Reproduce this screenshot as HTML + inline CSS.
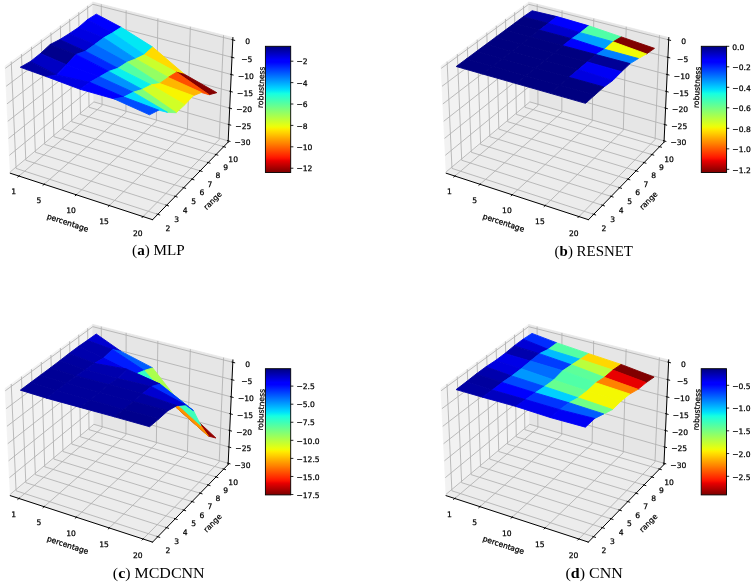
<!DOCTYPE html>
<html lang="en"><head><meta charset="utf-8"><title>Robustness surfaces</title>
<style>
html,body{margin:0;padding:0;background:#fff}
svg{display:block}
svg text{font-family:"DejaVu Sans","Liberation Sans",sans-serif;font-size:7.59px;fill:#000;stroke:#000;stroke-width:0.25px}
svg text.cap{font-family:"Liberation Serif","DejaVu Serif",serif;font-size:14px;stroke:none}
</style></head>
<body>
<svg width="755" height="586" viewBox="0 0 755 586">
<defs><linearGradient id="jet" x1="0" y1="0" x2="0" y2="1"><stop offset="0%" stop-color="#000080"/><stop offset="1.56%" stop-color="#000092"/><stop offset="3.12%" stop-color="#0000a4"/><stop offset="4.69%" stop-color="#0000b6"/><stop offset="6.25%" stop-color="#0000c8"/><stop offset="7.81%" stop-color="#0000da"/><stop offset="9.38%" stop-color="#0000ed"/><stop offset="10.94%" stop-color="#0000ff"/><stop offset="12.5%" stop-color="#0000ff"/><stop offset="14.06%" stop-color="#0010ff"/><stop offset="15.62%" stop-color="#0020ff"/><stop offset="17.19%" stop-color="#0030ff"/><stop offset="18.75%" stop-color="#0040ff"/><stop offset="20.31%" stop-color="#0050ff"/><stop offset="21.88%" stop-color="#0060ff"/><stop offset="23.44%" stop-color="#0070ff"/><stop offset="25%" stop-color="#0080ff"/><stop offset="26.56%" stop-color="#0090ff"/><stop offset="28.12%" stop-color="#00a0ff"/><stop offset="29.69%" stop-color="#00b0ff"/><stop offset="31.25%" stop-color="#00c0ff"/><stop offset="32.81%" stop-color="#00d0ff"/><stop offset="34.38%" stop-color="#00e0fb"/><stop offset="35.94%" stop-color="#09f0ee"/><stop offset="37.5%" stop-color="#16ffe1"/><stop offset="39.06%" stop-color="#23ffd4"/><stop offset="40.62%" stop-color="#30ffc7"/><stop offset="42.19%" stop-color="#3cffba"/><stop offset="43.75%" stop-color="#49ffad"/><stop offset="45.31%" stop-color="#56ffa0"/><stop offset="46.88%" stop-color="#63ff94"/><stop offset="48.44%" stop-color="#70ff87"/><stop offset="50%" stop-color="#7dff7a"/><stop offset="51.56%" stop-color="#8aff6d"/><stop offset="53.12%" stop-color="#97ff60"/><stop offset="54.69%" stop-color="#a4ff53"/><stop offset="56.25%" stop-color="#b1ff46"/><stop offset="57.81%" stop-color="#beff39"/><stop offset="59.38%" stop-color="#caff2c"/><stop offset="60.94%" stop-color="#d7ff1f"/><stop offset="62.5%" stop-color="#e4ff13"/><stop offset="64.06%" stop-color="#f1fc06"/><stop offset="65.62%" stop-color="#feed00"/><stop offset="67.19%" stop-color="#ffde00"/><stop offset="68.75%" stop-color="#ffd000"/><stop offset="70.31%" stop-color="#ffc100"/><stop offset="71.88%" stop-color="#ffb200"/><stop offset="73.44%" stop-color="#ffa300"/><stop offset="75%" stop-color="#ff9400"/><stop offset="76.56%" stop-color="#ff8600"/><stop offset="78.12%" stop-color="#ff7700"/><stop offset="79.69%" stop-color="#ff6800"/><stop offset="81.25%" stop-color="#ff5900"/><stop offset="82.81%" stop-color="#ff4a00"/><stop offset="84.38%" stop-color="#ff3b00"/><stop offset="85.94%" stop-color="#ff2d00"/><stop offset="87.5%" stop-color="#ff1e00"/><stop offset="89.06%" stop-color="#fa0f00"/><stop offset="90.62%" stop-color="#e80000"/><stop offset="92.19%" stop-color="#d60000"/><stop offset="93.75%" stop-color="#c40000"/><stop offset="95.31%" stop-color="#b20000"/><stop offset="96.88%" stop-color="#9f0000"/><stop offset="98.44%" stop-color="#8d0000"/><stop offset="100%" stop-color="#800000"/></linearGradient></defs>
<rect width="755" height="586" fill="#fff"/>
<g id="plot-a">
<polygon points="10.31,173.24 93.94,103.14 92.78,2.05 5.15,66" fill="#f2f2f2" stroke="#f2f2f2" stroke-width="0.76" stroke-linejoin="miter"/>
<polygon points="93.94,103.14 228.13,142.15 232.91,37.57 92.78,2.05" fill="#e6e6e6" stroke="#e6e6e6" stroke-width="0.76" stroke-linejoin="miter"/>
<polygon points="10.31,173.24 152.56,219.7 228.13,142.15 93.94,103.14" fill="#ececec" stroke="#ececec" stroke-width="0.76" stroke-linejoin="miter"/>
<path d="M18.93,176.05L102.1,105.51L101.28,4.21M44.12,184.28L125.94,112.44L126.14,10.51M76.3,194.79L156.33,121.28L157.87,18.55M109.27,205.56L187.41,130.31L190.33,26.78M143.05,216.59L219.19,139.55L223.57,35.2M11.21,61.58L16.08,168.41L157.79,214.33M21.43,54.12L25.81,160.25L166.61,205.28M31.45,46.8L35.35,152.25L175.25,196.41M41.28,39.63L44.72,144.4L183.73,187.71M50.91,32.6L53.91,136.7L192.03,179.18M60.36,25.71L62.93,129.13L200.18,170.82M69.63,18.94L71.79,121.71L208.17,162.62M78.72,12.31L80.48,114.42L216.01,154.58M87.65,5.8L89.03,107.26L223.71,146.68M228.18,140.86L93.92,101.89L10.25,171.92M228.93,124.61L93.74,86.16L9.45,155.28M229.68,108.14L93.56,70.23L8.64,138.41M230.45,91.44L93.37,54.07L7.81,121.29M231.22,74.5L93.19,37.7L6.98,103.91M232.01,57.32L93,21.11L6.13,86.28M232.81,39.89L92.8,4.29L5.26,68.38" fill="none" stroke="#b0b0b0" stroke-width="0.85" stroke-linejoin="miter"/>
<polygon points="87.38,19.71 112.46,32.87 121.13,27.3 96.25,14.14" fill="#0000ff" stroke="#0000ff" stroke-width="0.9" stroke-linejoin="round"/>
<polygon points="112.46,32.87 144.22,54.72 152.66,47.07 121.13,27.3" fill="#02e8f4" stroke="#02e8f4" stroke-width="0.9" stroke-linejoin="round"/>
<polygon points="78.38,27.56 103.61,37.85 112.46,32.87 87.38,19.71" fill="#0000f1" stroke="#0000f1" stroke-width="0.9" stroke-linejoin="round"/>
<polygon points="144.22,54.72 176.48,72.24 184.42,74.25 152.66,47.07" fill="#ffdb00" stroke="#ffdb00" stroke-width="0.9" stroke-linejoin="round"/>
<polygon points="103.61,37.85 135.65,58.9 144.22,54.72 112.46,32.87" fill="#00c8ff" stroke="#00c8ff" stroke-width="0.9" stroke-linejoin="round"/>
<polygon points="176.48,72.24 209.09,94.71 216.8,92.67 184.42,74.25" fill="#840000" stroke="#840000" stroke-width="0.9" stroke-linejoin="round"/>
<polygon points="69.18,33.68 94.59,44.61 103.61,37.85 78.38,27.56" fill="#0000e3" stroke="#0000e3" stroke-width="0.9" stroke-linejoin="round"/>
<polygon points="135.65,58.9 168.18,77.4 176.48,72.24 144.22,54.72" fill="#caff2c" stroke="#caff2c" stroke-width="0.9" stroke-linejoin="round"/>
<polygon points="94.59,44.61 126.9,62.37 135.65,58.9 103.61,37.85" fill="#0090ff" stroke="#0090ff" stroke-width="0.9" stroke-linejoin="round"/>
<polygon points="59.78,39.58 85.38,51.19 94.59,44.61 69.18,33.68" fill="#0000d1" stroke="#0000d1" stroke-width="0.9" stroke-linejoin="round"/>
<polygon points="168.18,77.4 201.35,92.46 209.09,94.71 176.48,72.24" fill="#ff4e00" stroke="#ff4e00" stroke-width="0.9" stroke-linejoin="round"/>
<polygon points="126.9,62.37 159.69,83.47 168.18,77.4 135.65,58.9" fill="#94ff63" stroke="#94ff63" stroke-width="0.9" stroke-linejoin="round"/>
<polygon points="85.38,51.19 117.94,68.23 126.9,62.37 94.59,44.61" fill="#0068ff" stroke="#0068ff" stroke-width="0.9" stroke-linejoin="round"/>
<polygon points="50.15,44.47 75.93,54.48 85.38,51.19 59.78,39.58" fill="#00009b" stroke="#00009b" stroke-width="0.9" stroke-linejoin="round"/>
<polygon points="159.69,83.47 193.22,95.75 201.35,92.46 168.18,77.4" fill="#ffb600" stroke="#ffb600" stroke-width="0.9" stroke-linejoin="round"/>
<polygon points="117.94,68.23 151.08,84.9 159.69,83.47 126.9,62.37" fill="#53ffa4" stroke="#53ffa4" stroke-width="0.9" stroke-linejoin="round"/>
<polygon points="75.93,54.48 108.78,71.42 117.94,68.23 85.38,51.19" fill="#0028ff" stroke="#0028ff" stroke-width="0.9" stroke-linejoin="round"/>
<polygon points="40.45,53.51 66.41,64.69 75.93,54.48 50.15,44.47" fill="#00008d" stroke="#00008d" stroke-width="0.9" stroke-linejoin="round"/>
<polygon points="151.08,84.9 184.74,104.82 193.22,95.75 159.69,83.47" fill="#f8f500" stroke="#f8f500" stroke-width="0.9" stroke-linejoin="round"/>
<polygon points="108.78,71.42 142.22,89.45 151.08,84.9 117.94,68.23" fill="#09f0ee" stroke="#09f0ee" stroke-width="0.9" stroke-linejoin="round"/>
<polygon points="66.41,64.69 99.43,76.84 108.78,71.42 75.93,54.48" fill="#0000ff" stroke="#0000ff" stroke-width="0.9" stroke-linejoin="round"/>
<polygon points="30.53,61.44 56.71,74.9 66.41,64.69 40.45,53.51" fill="#0000c4" stroke="#0000c4" stroke-width="0.9" stroke-linejoin="round"/>
<polygon points="142.22,89.45 176.12,112.72 184.74,104.82 151.08,84.9" fill="#d1ff26" stroke="#d1ff26" stroke-width="0.9" stroke-linejoin="round"/>
<polygon points="99.43,76.84 133.17,92.18 142.22,89.45 108.78,71.42" fill="#0094ff" stroke="#0094ff" stroke-width="0.9" stroke-linejoin="round"/>
<polygon points="56.71,74.9 89.86,82.3 99.43,76.84 66.41,64.69" fill="#0000ff" stroke="#0000ff" stroke-width="0.9" stroke-linejoin="round"/>
<polygon points="20.31,67.26 46.57,76.65 56.71,74.9 30.53,61.44" fill="#0000a4" stroke="#0000a4" stroke-width="0.9" stroke-linejoin="round"/>
<polygon points="133.17,92.18 167.5,112.35 176.12,112.72 142.22,89.45" fill="#7dff7a" stroke="#7dff7a" stroke-width="0.9" stroke-linejoin="round"/>
<polygon points="46.57,76.65 80.1,89.28 89.86,82.3 56.71,74.9" fill="#0000e3" stroke="#0000e3" stroke-width="0.9" stroke-linejoin="round"/>
<polygon points="89.86,82.3 123.88,97.04 133.17,92.18 99.43,76.84" fill="#0048ff" stroke="#0048ff" stroke-width="0.9" stroke-linejoin="round"/>
<polygon points="123.88,97.04 158.66,110.15 167.5,112.35 133.17,92.18" fill="#00dcfe" stroke="#00dcfe" stroke-width="0.9" stroke-linejoin="round"/>
<polygon points="80.1,89.28 114.37,98.97 123.88,97.04 89.86,82.3" fill="#0000ff" stroke="#0000ff" stroke-width="0.9" stroke-linejoin="round"/>
<polygon points="114.37,98.97 149.47,114.82 158.66,110.15 123.88,97.04" fill="#004cff" stroke="#004cff" stroke-width="0.9" stroke-linejoin="round"/>
<g fill="none" stroke="#000" stroke-width="1" stroke-linecap="square"><path d="M10.31,173.24L152.56,219.7"/><path d="M228.13,142.15L152.56,219.7"/><path d="M228.13,142.15L232.91,37.57"/></g>
<path d="M19.65,175.44L17.48,177.28M44.84,183.65L42.69,185.53M77,194.15L74.9,196.07M109.95,204.9L107.9,206.87M143.72,215.92L141.72,217.94M156.59,213.94L160.18,215.1M165.42,204.9L168.98,206.04M174.07,196.03L177.61,197.15M182.56,187.35L186.07,188.44M190.87,178.83L194.36,179.9M199.03,170.47L202.49,171.52M207.03,162.28L210.47,163.31M214.87,154.24L218.29,155.25M222.57,146.35L225.97,147.34M227.06,140.53L230.44,141.51M227.79,124.29L231.2,125.26M228.54,107.83L231.97,108.78M229.3,91.13L232.75,92.07M230.06,74.19L233.55,75.12M230.84,57.02L234.35,57.93M231.63,39.59L235.17,40.49" fill="none" stroke="#000" stroke-width="0.95"/>
<text transform="translate(67.58,223.16) rotate(18.09)" y="2.09" text-anchor="middle">percentage</text>
<text x="13.6" y="194.27" text-anchor="middle">1</text>
<text x="38.82" y="202.64" text-anchor="middle">5</text>
<text x="71.02" y="213.33" text-anchor="middle">10</text>
<text x="104.02" y="224.28" text-anchor="middle">15</text>
<text x="137.84" y="235.5" text-anchor="middle">20</text>
<text transform="translate(212.96,201) rotate(-45.74)" y="2.09" text-anchor="middle">range</text>
<text x="167.99" y="230.81" text-anchor="middle">2</text>
<text x="176.72" y="221.65" text-anchor="middle">3</text>
<text x="185.27" y="212.68" text-anchor="middle">4</text>
<text x="193.65" y="203.88" text-anchor="middle">5</text>
<text x="201.87" y="195.25" text-anchor="middle">6</text>
<text x="209.93" y="186.79" text-anchor="middle">7</text>
<text x="217.84" y="178.49" text-anchor="middle">8</text>
<text x="225.59" y="170.35" text-anchor="middle">9</text>
<text x="233.2" y="162.37" text-anchor="middle">10</text>
<text transform="translate(261.65,87.38) rotate(-87.38)" y="2.09" text-anchor="middle">robustness</text>
<text x="242.49" y="145.14" text-anchor="middle">−30</text>
<text x="243.33" y="128.92" text-anchor="middle">−25</text>
<text x="244.18" y="112.48" text-anchor="middle">−20</text>
<text x="245.04" y="95.81" text-anchor="middle">−15</text>
<text x="245.92" y="78.9" text-anchor="middle">−10</text>
<text x="246.8" y="61.74" text-anchor="middle">−5</text>
<text x="247.7" y="44.34" text-anchor="middle">0</text>
<rect x="265.4" y="46.3" width="25.3" height="126.2" fill="url(#jet)" stroke="#000" stroke-width="0.9"/>
<text x="296.41" y="64.44" text-anchor="start">−2</text>
<text x="296.41" y="85.84" text-anchor="start">−4</text>
<text x="296.41" y="107.24" text-anchor="start">−6</text>
<text x="296.41" y="128.65" text-anchor="start">−8</text>
<text x="296.41" y="150.05" text-anchor="start">−10</text>
<text x="296.41" y="171.45" text-anchor="start">−12</text>
<path d="M290.7,61.21h2.66M290.7,82.61h2.66M290.7,104.01h2.66M290.7,125.41h2.66M290.7,146.82h2.66M290.7,168.22h2.66" fill="none" stroke="#000" stroke-width="0.85"/>
</g>
<g id="plot-b">
<polygon points="446.21,173.24 529.84,103.14 528.68,2.05 441.05,66" fill="#f2f2f2" stroke="#f2f2f2" stroke-width="0.76" stroke-linejoin="miter"/>
<polygon points="529.84,103.14 664.03,142.15 668.81,37.57 528.68,2.05" fill="#e6e6e6" stroke="#e6e6e6" stroke-width="0.76" stroke-linejoin="miter"/>
<polygon points="446.21,173.24 588.46,219.7 664.03,142.15 529.84,103.14" fill="#ececec" stroke="#ececec" stroke-width="0.76" stroke-linejoin="miter"/>
<path d="M454.83,176.05L538,105.51L537.18,4.21M480.02,184.28L561.84,112.44L562.04,10.51M512.2,194.79L592.23,121.28L593.77,18.55M545.17,205.56L623.31,130.31L626.23,26.78M578.95,216.59L655.09,139.55L659.47,35.2M447.11,61.58L451.98,168.41L593.69,214.33M457.33,54.12L461.71,160.25L602.51,205.28M467.35,46.8L471.25,152.25L611.15,196.41M477.18,39.63L480.62,144.4L619.63,187.71M486.81,32.6L489.81,136.7L627.93,179.18M496.26,25.71L498.83,129.13L636.08,170.82M505.53,18.94L507.69,121.71L644.07,162.62M514.62,12.31L516.38,114.42L651.91,154.58M523.55,5.8L524.93,107.26L659.61,146.68M664.08,140.86L529.82,101.89L446.15,171.92M664.83,124.61L529.64,86.16L445.35,155.28M665.58,108.14L529.46,70.23L444.54,138.41M666.35,91.44L529.27,54.07L443.71,121.29M667.12,74.5L529.09,37.7L442.88,103.91M667.91,57.32L528.9,21.11L442.03,86.28M668.71,39.89L528.7,4.29L441.16,68.38" fill="none" stroke="#b0b0b0" stroke-width="0.85" stroke-linejoin="miter"/>
<polygon points="523.24,16.8 548.33,23.32 557.03,16.61 532.11,10.75" fill="#0000a4" stroke="#0000a4" stroke-width="0.9" stroke-linejoin="round"/>
<polygon points="514.21,23.49 539.45,30.12 548.33,23.32 523.24,16.8" fill="#000080" stroke="#000080" stroke-width="0.9" stroke-linejoin="round"/>
<polygon points="548.33,23.32 580.33,32.67 588.83,25.85 557.03,16.61" fill="#0000ff" stroke="#0000ff" stroke-width="0.9" stroke-linejoin="round"/>
<polygon points="505,30.31 530.4,37.07 539.45,30.12 514.21,23.49" fill="#000080" stroke="#000080" stroke-width="0.9" stroke-linejoin="round"/>
<polygon points="539.45,30.12 571.68,38.69 580.33,32.67 548.33,23.32" fill="#0000cd" stroke="#0000cd" stroke-width="0.9" stroke-linejoin="round"/>
<polygon points="580.33,32.67 613.08,41.81 621.31,36.91 588.83,25.85" fill="#50ffa7" stroke="#50ffa7" stroke-width="0.9" stroke-linejoin="round"/>
<polygon points="495.62,37.27 521.18,44.16 530.4,37.07 505,30.31" fill="#000080" stroke="#000080" stroke-width="0.9" stroke-linejoin="round"/>
<polygon points="530.4,37.07 562.84,45.71 571.68,38.69 539.45,30.12" fill="#000084" stroke="#000084" stroke-width="0.9" stroke-linejoin="round"/>
<polygon points="571.68,38.69 604.63,49.29 613.08,41.81 580.33,32.67" fill="#00a0ff" stroke="#00a0ff" stroke-width="0.9" stroke-linejoin="round"/>
<polygon points="613.08,41.81 646.5,53.92 654.47,48.35 621.31,36.91" fill="#800000" stroke="#800000" stroke-width="0.9" stroke-linejoin="round"/>
<polygon points="486.05,44.36 511.77,51.39 521.18,44.16 495.62,37.27" fill="#000080" stroke="#000080" stroke-width="0.9" stroke-linejoin="round"/>
<polygon points="521.18,44.16 553.82,52.97 562.84,45.71 530.4,37.07" fill="#000080" stroke="#000080" stroke-width="0.9" stroke-linejoin="round"/>
<polygon points="562.84,45.71 596.06,54.57 604.63,49.29 571.68,38.69" fill="#0000ff" stroke="#0000ff" stroke-width="0.9" stroke-linejoin="round"/>
<polygon points="604.63,49.29 638.39,58.49 646.5,53.92 613.08,41.81" fill="#f1fc06" stroke="#f1fc06" stroke-width="0.9" stroke-linejoin="round"/>
<polygon points="476.29,51.59 502.17,58.77 511.77,51.39 486.05,44.36" fill="#000080" stroke="#000080" stroke-width="0.9" stroke-linejoin="round"/>
<polygon points="511.77,51.39 544.63,60.38 553.82,52.97 521.18,44.16" fill="#000080" stroke="#000080" stroke-width="0.9" stroke-linejoin="round"/>
<polygon points="553.82,52.97 587.26,61.99 596.06,54.57 562.84,45.71" fill="#000080" stroke="#000080" stroke-width="0.9" stroke-linejoin="round"/>
<polygon points="596.06,54.57 630.09,63.61 638.39,58.49 604.63,49.29" fill="#0080ff" stroke="#0080ff" stroke-width="0.9" stroke-linejoin="round"/>
<polygon points="466.33,58.97 492.38,66.29 502.17,58.77 476.29,51.59" fill="#000080" stroke="#000080" stroke-width="0.9" stroke-linejoin="round"/>
<polygon points="502.17,58.77 535.24,67.93 544.63,60.38 511.77,51.39" fill="#000080" stroke="#000080" stroke-width="0.9" stroke-linejoin="round"/>
<polygon points="544.63,60.38 578.3,69.58 587.26,61.99 553.82,52.97" fill="#000080" stroke="#000080" stroke-width="0.9" stroke-linejoin="round"/>
<polygon points="587.26,61.99 621.52,71.63 630.09,63.61 596.06,54.57" fill="#000096" stroke="#000096" stroke-width="0.9" stroke-linejoin="round"/>
<polygon points="456.18,66.5 482.39,73.97 492.38,66.29 466.33,58.97" fill="#000080" stroke="#000080" stroke-width="0.9" stroke-linejoin="round"/>
<polygon points="492.38,66.29 525.67,75.64 535.24,67.93 502.17,58.77" fill="#000080" stroke="#000080" stroke-width="0.9" stroke-linejoin="round"/>
<polygon points="535.24,67.93 569.14,77.33 578.3,69.58 544.63,60.38" fill="#000080" stroke="#000080" stroke-width="0.9" stroke-linejoin="round"/>
<polygon points="578.3,69.58 612.77,80.49 621.52,71.63 587.26,61.99" fill="#0000f6" stroke="#0000f6" stroke-width="0.9" stroke-linejoin="round"/>
<polygon points="482.39,73.97 515.9,83.51 525.67,75.64 492.38,66.29" fill="#000080" stroke="#000080" stroke-width="0.9" stroke-linejoin="round"/>
<polygon points="525.67,75.64 559.8,85.23 569.14,77.33 535.24,67.93" fill="#000080" stroke="#000080" stroke-width="0.9" stroke-linejoin="round"/>
<polygon points="569.14,77.33 603.9,86.96 612.77,80.49 578.3,69.58" fill="#0000df" stroke="#0000df" stroke-width="0.9" stroke-linejoin="round"/>
<polygon points="515.9,83.51 550.26,93.3 559.8,85.23 525.67,75.64" fill="#000080" stroke="#000080" stroke-width="0.9" stroke-linejoin="round"/>
<polygon points="559.8,85.23 594.8,95.06 603.9,86.96 569.14,77.33" fill="#000080" stroke="#000080" stroke-width="0.9" stroke-linejoin="round"/>
<polygon points="550.26,93.3 585.51,103.35 594.8,95.06 559.8,85.23" fill="#000080" stroke="#000080" stroke-width="0.9" stroke-linejoin="round"/>
<g fill="none" stroke="#000" stroke-width="1" stroke-linecap="square"><path d="M446.21,173.24L588.46,219.7"/><path d="M664.03,142.15L588.46,219.7"/><path d="M664.03,142.15L668.81,37.57"/></g>
<path d="M455.55,175.44L453.38,177.28M480.74,183.65L478.59,185.53M512.9,194.15L510.8,196.07M545.85,204.9L543.8,206.87M579.62,215.92L577.62,217.94M592.49,213.94L596.08,215.1M601.32,204.9L604.88,206.04M609.97,196.03L613.51,197.15M618.46,187.35L621.97,188.44M626.77,178.83L630.26,179.9M634.93,170.47L638.39,171.52M642.93,162.28L646.37,163.31M650.77,154.24L654.19,155.25M658.47,146.35L661.87,147.34M662.96,140.53L666.34,141.51M663.69,124.29L667.1,125.26M664.44,107.83L667.87,108.78M665.2,91.13L668.65,92.07M665.96,74.19L669.45,75.12M666.74,57.02L670.25,57.93M667.53,39.59L671.07,40.49" fill="none" stroke="#000" stroke-width="0.95"/>
<text transform="translate(503.48,223.16) rotate(18.09)" y="2.09" text-anchor="middle">percentage</text>
<text x="449.5" y="194.27" text-anchor="middle">1</text>
<text x="474.72" y="202.64" text-anchor="middle">5</text>
<text x="506.92" y="213.33" text-anchor="middle">10</text>
<text x="539.92" y="224.28" text-anchor="middle">15</text>
<text x="573.74" y="235.5" text-anchor="middle">20</text>
<text transform="translate(648.86,201) rotate(-45.74)" y="2.09" text-anchor="middle">range</text>
<text x="603.89" y="230.81" text-anchor="middle">2</text>
<text x="612.62" y="221.65" text-anchor="middle">3</text>
<text x="621.17" y="212.68" text-anchor="middle">4</text>
<text x="629.55" y="203.88" text-anchor="middle">5</text>
<text x="637.77" y="195.25" text-anchor="middle">6</text>
<text x="645.83" y="186.79" text-anchor="middle">7</text>
<text x="653.74" y="178.49" text-anchor="middle">8</text>
<text x="661.49" y="170.35" text-anchor="middle">9</text>
<text x="669.1" y="162.37" text-anchor="middle">10</text>
<text transform="translate(697.55,87.38) rotate(-87.38)" y="2.09" text-anchor="middle">robustness</text>
<text x="678.39" y="145.14" text-anchor="middle">−30</text>
<text x="679.23" y="128.92" text-anchor="middle">−25</text>
<text x="680.08" y="112.48" text-anchor="middle">−20</text>
<text x="680.94" y="95.81" text-anchor="middle">−15</text>
<text x="681.82" y="78.9" text-anchor="middle">−10</text>
<text x="682.7" y="61.74" text-anchor="middle">−5</text>
<text x="683.6" y="44.34" text-anchor="middle">0</text>
<rect x="701.3" y="46.3" width="25.3" height="126.2" fill="url(#jet)" stroke="#000" stroke-width="0.9"/>
<text x="732.31" y="49.53" text-anchor="start">0.0</text>
<text x="732.31" y="70.04" text-anchor="start">−0.2</text>
<text x="732.31" y="90.54" text-anchor="start">−0.4</text>
<text x="732.31" y="111.04" text-anchor="start">−0.6</text>
<text x="732.31" y="131.55" text-anchor="start">−0.8</text>
<text x="732.31" y="152.05" text-anchor="start">−1.0</text>
<text x="732.31" y="172.55" text-anchor="start">−1.2</text>
<path d="M726.6,46.3h2.66M726.6,66.8h2.66M726.6,87.31h2.66M726.6,107.81h2.66M726.6,128.31h2.66M726.6,148.82h2.66M726.6,169.32h2.66" fill="none" stroke="#000" stroke-width="0.85"/>
</g>
<g id="plot-c">
<polygon points="10.31,495.64 93.94,425.54 92.78,324.45 5.15,388.4" fill="#f2f2f2" stroke="#f2f2f2" stroke-width="0.76" stroke-linejoin="miter"/>
<polygon points="93.94,425.54 228.13,464.55 232.91,359.97 92.78,324.45" fill="#e6e6e6" stroke="#e6e6e6" stroke-width="0.76" stroke-linejoin="miter"/>
<polygon points="10.31,495.64 152.56,542.1 228.13,464.55 93.94,425.54" fill="#ececec" stroke="#ececec" stroke-width="0.76" stroke-linejoin="miter"/>
<path d="M18.93,498.45L102.1,427.91L101.28,326.61M44.12,506.68L125.94,434.84L126.14,332.91M76.3,517.19L156.33,443.68L157.87,340.95M109.27,527.96L187.41,452.71L190.33,349.18M143.05,538.99L219.19,461.95L223.57,357.6M11.21,383.98L16.08,490.81L157.79,536.73M21.43,376.52L25.81,482.65L166.61,527.68M31.45,369.2L35.35,474.65L175.25,518.81M41.28,362.03L44.72,466.8L183.73,510.11M50.91,355L53.91,459.1L192.03,501.58M60.36,348.11L62.93,451.53L200.18,493.22M69.63,341.34L71.79,444.11L208.17,485.02M78.72,334.71L80.48,436.82L216.01,476.98M87.65,328.2L89.03,429.66L223.71,469.08M228.18,463.26L93.92,424.29L10.25,494.32M228.93,447.01L93.74,408.56L9.45,477.68M229.68,430.54L93.56,392.63L8.64,460.81M230.45,413.84L93.37,376.47L7.81,443.69M231.22,396.9L93.19,360.1L6.98,426.31M232.01,379.72L93,343.51L6.13,408.68M232.81,362.29L92.8,326.69L5.26,390.78" fill="none" stroke="#b0b0b0" stroke-width="0.85" stroke-linejoin="miter"/>
<polygon points="87.36,340.36 112.44,349.53 121.14,351.4 96.22,333.99" fill="#0000d1" stroke="#0000d1" stroke-width="0.9" stroke-linejoin="round"/>
<polygon points="112.44,349.53 144.29,370.54 152.68,367.88 121.14,351.4" fill="#005cff" stroke="#005cff" stroke-width="0.9" stroke-linejoin="round"/>
<polygon points="144.29,370.54 176.19,407.43 184.11,408.42 152.68,367.88" fill="#aaff4d" stroke="#aaff4d" stroke-width="0.9" stroke-linejoin="round"/>
<polygon points="78.32,346.58 103.59,358 112.44,349.53 87.36,340.36" fill="#0000ad" stroke="#0000ad" stroke-width="0.9" stroke-linejoin="round"/>
<polygon points="176.19,407.43 208.39,436.08 215.88,438 184.11,408.42" fill="#920000" stroke="#920000" stroke-width="0.9" stroke-linejoin="round"/>
<polygon points="103.59,358 135.7,374.07 144.29,370.54 112.44,349.53" fill="#001cff" stroke="#001cff" stroke-width="0.9" stroke-linejoin="round"/>
<polygon points="69.12,353.41 94.55,363.36 103.59,358 78.32,346.58" fill="#0000ad" stroke="#0000ad" stroke-width="0.9" stroke-linejoin="round"/>
<polygon points="135.7,374.07 168.26,395.89 176.19,407.43 144.29,370.54" fill="#33ffc4" stroke="#33ffc4" stroke-width="0.9" stroke-linejoin="round"/>
<polygon points="168.26,395.89 200.98,425.74 208.39,436.08 176.19,407.43" fill="#ff9400" stroke="#ff9400" stroke-width="0.9" stroke-linejoin="round"/>
<polygon points="94.55,363.36 126.93,369.17 135.7,374.07 103.59,358" fill="#0000e8" stroke="#0000e8" stroke-width="0.9" stroke-linejoin="round"/>
<polygon points="59.75,360.72 85.32,369.7 94.55,363.36 69.12,353.41" fill="#00009f" stroke="#00009f" stroke-width="0.9" stroke-linejoin="round"/>
<polygon points="126.93,369.17 160.04,384.05 168.26,395.89 135.7,374.07" fill="#0040ff" stroke="#0040ff" stroke-width="0.9" stroke-linejoin="round"/>
<polygon points="50.19,367.99 75.91,375.92 85.32,369.7 59.75,360.72" fill="#00009b" stroke="#00009b" stroke-width="0.9" stroke-linejoin="round"/>
<polygon points="85.32,369.7 117.93,378.6 126.93,369.17 94.55,363.36" fill="#0000ad" stroke="#0000ad" stroke-width="0.9" stroke-linejoin="round"/>
<polygon points="160.04,384.05 193.44,410.61 200.98,425.74 168.26,395.89" fill="#3cffba" stroke="#3cffba" stroke-width="0.9" stroke-linejoin="round"/>
<polygon points="40.43,375.24 66.32,383.31 75.91,375.92 50.19,367.99" fill="#000096" stroke="#000096" stroke-width="0.9" stroke-linejoin="round"/>
<polygon points="75.91,375.92 108.74,384.56 117.93,378.6 85.32,369.7" fill="#0000a8" stroke="#0000a8" stroke-width="0.9" stroke-linejoin="round"/>
<polygon points="117.93,378.6 151.34,386.54 160.04,384.05 126.93,369.17" fill="#0000b6" stroke="#0000b6" stroke-width="0.9" stroke-linejoin="round"/>
<polygon points="30.48,382.62 56.54,390.85 66.32,383.31 40.43,375.24" fill="#000096" stroke="#000096" stroke-width="0.9" stroke-linejoin="round"/>
<polygon points="66.32,383.31 99.36,392.13 108.74,384.56 75.91,375.92" fill="#00009b" stroke="#00009b" stroke-width="0.9" stroke-linejoin="round"/>
<polygon points="151.34,386.54 185.34,404.79 193.44,410.61 160.04,384.05" fill="#0030ff" stroke="#0030ff" stroke-width="0.9" stroke-linejoin="round"/>
<polygon points="108.74,384.56 142.38,393.86 151.34,386.54 117.93,378.6" fill="#00009f" stroke="#00009f" stroke-width="0.9" stroke-linejoin="round"/>
<polygon points="20.33,390.16 46.55,398.18 56.54,390.85 30.48,382.62" fill="#000096" stroke="#000096" stroke-width="0.9" stroke-linejoin="round"/>
<polygon points="56.54,390.85 89.8,400.04 99.36,392.13 66.32,383.31" fill="#00009b" stroke="#00009b" stroke-width="0.9" stroke-linejoin="round"/>
<polygon points="99.36,392.13 133.23,401.54 142.38,393.86 108.74,384.56" fill="#00009b" stroke="#00009b" stroke-width="0.9" stroke-linejoin="round"/>
<polygon points="142.38,393.86 176.81,405.67 185.34,404.79 151.34,386.54" fill="#0000d1" stroke="#0000d1" stroke-width="0.9" stroke-linejoin="round"/>
<polygon points="46.55,398.18 80.02,407.38 89.8,400.04 56.54,390.85" fill="#00009b" stroke="#00009b" stroke-width="0.9" stroke-linejoin="round"/>
<polygon points="89.8,400.04 123.9,409.46 133.23,401.54 99.36,392.13" fill="#00009b" stroke="#00009b" stroke-width="0.9" stroke-linejoin="round"/>
<polygon points="133.23,401.54 167.97,410.64 176.81,405.67 142.38,393.86" fill="#00009f" stroke="#00009f" stroke-width="0.9" stroke-linejoin="round"/>
<polygon points="80.02,407.38 114.36,416.81 123.9,409.46 89.8,400.04" fill="#000096" stroke="#000096" stroke-width="0.9" stroke-linejoin="round"/>
<polygon points="123.9,409.46 158.88,418.83 167.97,410.64 133.23,401.54" fill="#000092" stroke="#000092" stroke-width="0.9" stroke-linejoin="round"/>
<polygon points="114.36,416.81 149.6,426.71 158.88,418.83 123.9,409.46" fill="#00008d" stroke="#00008d" stroke-width="0.9" stroke-linejoin="round"/>
<g fill="none" stroke="#000" stroke-width="1" stroke-linecap="square"><path d="M10.31,495.64L152.56,542.1"/><path d="M228.13,464.55L152.56,542.1"/><path d="M228.13,464.55L232.91,359.97"/></g>
<path d="M19.65,497.84L17.48,499.68M44.84,506.05L42.69,507.93M77,516.55L74.9,518.47M109.95,527.3L107.9,529.27M143.72,538.32L141.72,540.34M156.59,536.34L160.18,537.5M165.42,527.3L168.98,528.44M174.07,518.43L177.61,519.55M182.56,509.75L186.07,510.84M190.87,501.23L194.36,502.3M199.03,492.87L202.49,493.92M207.03,484.68L210.47,485.71M214.87,476.64L218.29,477.65M222.57,468.75L225.97,469.74M227.06,462.93L230.44,463.91M227.79,446.69L231.2,447.66M228.54,430.23L231.97,431.18M229.3,413.53L232.75,414.47M230.06,396.59L233.55,397.52M230.84,379.42L234.35,380.33M231.63,361.99L235.17,362.89" fill="none" stroke="#000" stroke-width="0.95"/>
<text transform="translate(67.58,545.56) rotate(18.09)" y="2.09" text-anchor="middle">percentage</text>
<text x="13.6" y="516.67" text-anchor="middle">1</text>
<text x="38.82" y="525.04" text-anchor="middle">5</text>
<text x="71.02" y="535.73" text-anchor="middle">10</text>
<text x="104.02" y="546.68" text-anchor="middle">15</text>
<text x="137.84" y="557.9" text-anchor="middle">20</text>
<text transform="translate(212.96,523.4) rotate(-45.74)" y="2.09" text-anchor="middle">range</text>
<text x="167.99" y="553.21" text-anchor="middle">2</text>
<text x="176.72" y="544.05" text-anchor="middle">3</text>
<text x="185.27" y="535.08" text-anchor="middle">4</text>
<text x="193.65" y="526.28" text-anchor="middle">5</text>
<text x="201.87" y="517.65" text-anchor="middle">6</text>
<text x="209.93" y="509.19" text-anchor="middle">7</text>
<text x="217.84" y="500.89" text-anchor="middle">8</text>
<text x="225.59" y="492.75" text-anchor="middle">9</text>
<text x="233.2" y="484.77" text-anchor="middle">10</text>
<text transform="translate(261.65,409.78) rotate(-87.38)" y="2.09" text-anchor="middle">robustness</text>
<text x="242.49" y="467.54" text-anchor="middle">−30</text>
<text x="243.33" y="451.32" text-anchor="middle">−25</text>
<text x="244.18" y="434.88" text-anchor="middle">−20</text>
<text x="245.04" y="418.21" text-anchor="middle">−15</text>
<text x="245.92" y="401.3" text-anchor="middle">−10</text>
<text x="246.8" y="384.14" text-anchor="middle">−5</text>
<text x="247.7" y="366.74" text-anchor="middle">0</text>
<rect x="265.4" y="368.7" width="25.3" height="126.2" fill="url(#jet)" stroke="#000" stroke-width="0.9"/>
<text x="296.41" y="389.35" text-anchor="start">−2.5</text>
<text x="296.41" y="407.42" text-anchor="start">−5.0</text>
<text x="296.41" y="425.49" text-anchor="start">−7.5</text>
<text x="296.41" y="443.56" text-anchor="start">−10.0</text>
<text x="296.41" y="461.63" text-anchor="start">−12.5</text>
<text x="296.41" y="479.7" text-anchor="start">−15.0</text>
<text x="296.41" y="497.77" text-anchor="start">−17.5</text>
<path d="M290.7,386.12h2.66M290.7,404.19h2.66M290.7,422.26h2.66M290.7,440.33h2.66M290.7,458.4h2.66M290.7,476.47h2.66M290.7,494.54h2.66" fill="none" stroke="#000" stroke-width="0.85"/>
</g>
<g id="plot-d">
<polygon points="446.11,495.64 529.74,425.54 528.58,324.45 440.95,388.4" fill="#f2f2f2" stroke="#f2f2f2" stroke-width="0.76" stroke-linejoin="miter"/>
<polygon points="529.74,425.54 663.93,464.55 668.71,359.97 528.58,324.45" fill="#e6e6e6" stroke="#e6e6e6" stroke-width="0.76" stroke-linejoin="miter"/>
<polygon points="446.11,495.64 588.36,542.1 663.93,464.55 529.74,425.54" fill="#ececec" stroke="#ececec" stroke-width="0.76" stroke-linejoin="miter"/>
<path d="M454.73,498.45L537.9,427.91L537.08,326.61M479.92,506.68L561.74,434.84L561.94,332.91M512.1,517.19L592.13,443.68L593.67,340.95M545.07,527.96L623.21,452.71L626.13,349.18M578.85,538.99L654.99,461.95L659.37,357.6M447.01,383.98L451.88,490.81L593.59,536.73M457.23,376.52L461.61,482.65L602.41,527.68M467.25,369.2L471.15,474.65L611.05,518.81M477.08,362.03L480.52,466.8L619.53,510.11M486.71,355L489.71,459.1L627.83,501.58M496.16,348.11L498.73,451.53L635.98,493.22M505.43,341.34L507.59,444.11L643.97,485.02M514.52,334.71L516.28,436.82L651.81,476.98M523.45,328.2L524.83,429.66L659.51,469.08M663.98,463.26L529.72,424.29L446.05,494.32M664.73,447.01L529.54,408.56L445.25,477.68M665.48,430.54L529.36,392.63L444.44,460.81M666.25,413.84L529.17,376.47L443.61,443.69M667.02,396.9L528.99,360.1L442.78,426.31M667.81,379.72L528.8,343.51L441.93,408.68M668.61,362.29L528.6,326.69L441.06,390.78" fill="none" stroke="#b0b0b0" stroke-width="0.85" stroke-linejoin="miter"/>
<polygon points="523.14,339.2 548.24,349.32 556.93,342.88 532.01,333.41" fill="#002cff" stroke="#002cff" stroke-width="0.9" stroke-linejoin="round"/>
<polygon points="548.24,349.32 580.19,359.22 588.66,353.65 556.93,342.88" fill="#53ffa4" stroke="#53ffa4" stroke-width="0.9" stroke-linejoin="round"/>
<polygon points="514.11,345.89 539.36,353.63 548.24,349.32 523.14,339.2" fill="#0000d6" stroke="#0000d6" stroke-width="0.9" stroke-linejoin="round"/>
<polygon points="539.36,353.63 571.55,364.84 580.19,359.22 548.24,349.32" fill="#00bcff" stroke="#00bcff" stroke-width="0.9" stroke-linejoin="round"/>
<polygon points="504.92,353.51 530.32,361.08 539.36,353.63 514.11,345.89" fill="#0000ad" stroke="#0000ad" stroke-width="0.9" stroke-linejoin="round"/>
<polygon points="580.19,359.22 612.85,370.07 621.07,364.4 588.66,353.65" fill="#ffd700" stroke="#ffd700" stroke-width="0.9" stroke-linejoin="round"/>
<polygon points="495.54,360.47 521.11,368.78 530.32,361.08 504.92,353.51" fill="#0000e8" stroke="#0000e8" stroke-width="0.9" stroke-linejoin="round"/>
<polygon points="530.32,361.08 562.73,370.68 571.55,364.84 539.36,353.63" fill="#003cff" stroke="#003cff" stroke-width="0.9" stroke-linejoin="round"/>
<polygon points="571.55,364.84 604.42,377.35 612.85,370.07 580.19,359.22" fill="#baff3c" stroke="#baff3c" stroke-width="0.9" stroke-linejoin="round"/>
<polygon points="612.85,370.07 646.17,382.57 654.12,377.05 621.07,364.4" fill="#800000" stroke="#800000" stroke-width="0.9" stroke-linejoin="round"/>
<polygon points="485.95,366.83 511.71,375.96 521.11,368.78 495.54,360.47" fill="#0000df" stroke="#0000df" stroke-width="0.9" stroke-linejoin="round"/>
<polygon points="521.11,368.78 553.73,379.95 562.73,370.68 530.32,361.08" fill="#006cff" stroke="#006cff" stroke-width="0.9" stroke-linejoin="round"/>
<polygon points="562.73,370.68 595.86,382.81 604.42,377.35 571.55,364.84" fill="#5dff9a" stroke="#5dff9a" stroke-width="0.9" stroke-linejoin="round"/>
<polygon points="604.42,377.35 638.01,389.33 646.17,382.57 612.85,370.07" fill="#e80000" stroke="#e80000" stroke-width="0.9" stroke-linejoin="round"/>
<polygon points="511.71,375.96 544.55,386.6 553.73,379.95 521.11,368.78" fill="#0098ff" stroke="#0098ff" stroke-width="0.9" stroke-linejoin="round"/>
<polygon points="476.19,373.99 502.1,382.49 511.71,375.96 485.95,366.83" fill="#0000ad" stroke="#0000ad" stroke-width="0.9" stroke-linejoin="round"/>
<polygon points="553.73,379.95 587.08,390.97 595.86,382.81 562.73,370.68" fill="#50ffa7" stroke="#50ffa7" stroke-width="0.9" stroke-linejoin="round"/>
<polygon points="595.86,382.81 629.75,393.99 638.01,389.33 604.42,377.35" fill="#ff8200" stroke="#ff8200" stroke-width="0.9" stroke-linejoin="round"/>
<polygon points="466.25,381.84 492.32,390.02 502.1,382.49 476.19,373.99" fill="#00009f" stroke="#00009f" stroke-width="0.9" stroke-linejoin="round"/>
<polygon points="502.1,382.49 535.17,392.78 544.55,386.6 511.71,375.96" fill="#0048ff" stroke="#0048ff" stroke-width="0.9" stroke-linejoin="round"/>
<polygon points="544.55,386.6 578.14,397.81 587.08,390.97 553.73,379.95" fill="#66ff90" stroke="#66ff90" stroke-width="0.9" stroke-linejoin="round"/>
<polygon points="587.08,390.97 621.24,400.88 629.75,393.99 595.86,382.81" fill="#f4f802" stroke="#f4f802" stroke-width="0.9" stroke-linejoin="round"/>
<polygon points="456.11,389.62 482.31,397.13 492.32,390.02 466.25,381.84" fill="#0000a4" stroke="#0000a4" stroke-width="0.9" stroke-linejoin="round"/>
<polygon points="492.32,390.02 525.59,399.6 535.17,392.78 502.1,382.49" fill="#0000ff" stroke="#0000ff" stroke-width="0.9" stroke-linejoin="round"/>
<polygon points="535.17,392.78 569.03,402.78 578.14,397.81 544.55,386.6" fill="#00d0ff" stroke="#00d0ff" stroke-width="0.9" stroke-linejoin="round"/>
<polygon points="578.14,397.81 612.52,409.54 621.24,400.88 587.08,390.97" fill="#f4f802" stroke="#f4f802" stroke-width="0.9" stroke-linejoin="round"/>
<polygon points="482.31,397.13 515.81,406.43 525.59,399.6 492.32,390.02" fill="#0000bf" stroke="#0000bf" stroke-width="0.9" stroke-linejoin="round"/>
<polygon points="525.59,399.6 559.7,409.68 569.03,402.78 535.17,392.78" fill="#0034ff" stroke="#0034ff" stroke-width="0.9" stroke-linejoin="round"/>
<polygon points="569.03,402.78 603.71,413.93 612.52,409.54 578.14,397.81" fill="#70ff87" stroke="#70ff87" stroke-width="0.9" stroke-linejoin="round"/>
<polygon points="515.81,406.43 550.16,417.51 559.7,409.68 525.59,399.6" fill="#0000ed" stroke="#0000ed" stroke-width="0.9" stroke-linejoin="round"/>
<polygon points="559.7,409.68 594.68,418.5 603.71,413.93 569.03,402.78" fill="#005cff" stroke="#005cff" stroke-width="0.9" stroke-linejoin="round"/>
<polygon points="550.16,417.51 585.39,427.16 594.68,418.5 559.7,409.68" fill="#0000f6" stroke="#0000f6" stroke-width="0.9" stroke-linejoin="round"/>
<g fill="none" stroke="#000" stroke-width="1" stroke-linecap="square"><path d="M446.11,495.64L588.36,542.1"/><path d="M663.93,464.55L588.36,542.1"/><path d="M663.93,464.55L668.71,359.97"/></g>
<path d="M455.45,497.84L453.28,499.68M480.64,506.05L478.49,507.93M512.8,516.55L510.7,518.47M545.75,527.3L543.7,529.27M579.52,538.32L577.52,540.34M592.39,536.34L595.98,537.5M601.22,527.3L604.78,528.44M609.87,518.43L613.41,519.55M618.36,509.75L621.87,510.84M626.67,501.23L630.16,502.3M634.83,492.87L638.29,493.92M642.83,484.68L646.27,485.71M650.67,476.64L654.09,477.65M658.37,468.75L661.77,469.74M662.86,462.93L666.24,463.91M663.59,446.69L667,447.66M664.34,430.23L667.77,431.18M665.1,413.53L668.55,414.47M665.86,396.59L669.35,397.52M666.64,379.42L670.15,380.33M667.43,361.99L670.97,362.89" fill="none" stroke="#000" stroke-width="0.95"/>
<text transform="translate(503.38,545.56) rotate(18.09)" y="2.09" text-anchor="middle">percentage</text>
<text x="449.4" y="516.67" text-anchor="middle">1</text>
<text x="474.62" y="525.04" text-anchor="middle">5</text>
<text x="506.82" y="535.73" text-anchor="middle">10</text>
<text x="539.82" y="546.68" text-anchor="middle">15</text>
<text x="573.64" y="557.9" text-anchor="middle">20</text>
<text transform="translate(648.76,523.4) rotate(-45.74)" y="2.09" text-anchor="middle">range</text>
<text x="603.79" y="553.21" text-anchor="middle">2</text>
<text x="612.52" y="544.05" text-anchor="middle">3</text>
<text x="621.07" y="535.08" text-anchor="middle">4</text>
<text x="629.45" y="526.28" text-anchor="middle">5</text>
<text x="637.67" y="517.65" text-anchor="middle">6</text>
<text x="645.73" y="509.19" text-anchor="middle">7</text>
<text x="653.64" y="500.89" text-anchor="middle">8</text>
<text x="661.39" y="492.75" text-anchor="middle">9</text>
<text x="669" y="484.77" text-anchor="middle">10</text>
<text transform="translate(697.45,409.78) rotate(-87.38)" y="2.09" text-anchor="middle">robustness</text>
<text x="678.29" y="467.54" text-anchor="middle">−30</text>
<text x="679.13" y="451.32" text-anchor="middle">−25</text>
<text x="679.98" y="434.88" text-anchor="middle">−20</text>
<text x="680.84" y="418.21" text-anchor="middle">−15</text>
<text x="681.72" y="401.3" text-anchor="middle">−10</text>
<text x="682.6" y="384.14" text-anchor="middle">−5</text>
<text x="683.5" y="366.74" text-anchor="middle">0</text>
<rect x="701.2" y="368.7" width="25.3" height="126.2" fill="url(#jet)" stroke="#000" stroke-width="0.9"/>
<text x="732.21" y="388.54" text-anchor="start">−0.5</text>
<text x="732.21" y="411.28" text-anchor="start">−1.0</text>
<text x="732.21" y="434.03" text-anchor="start">−1.5</text>
<text x="732.21" y="456.78" text-anchor="start">−2.0</text>
<text x="732.21" y="479.52" text-anchor="start">−2.5</text>
<path d="M726.5,385.31h2.66M726.5,408.05h2.66M726.5,430.8h2.66M726.5,453.55h2.66M726.5,476.29h2.66" fill="none" stroke="#000" stroke-width="0.85"/>
</g>
<text transform="translate(158.4,255.3) scale(1.0833,1)" text-anchor="middle" class="cap" id="cap-a">(<tspan font-weight="bold">a</tspan>) MLP</text>
<text transform="translate(593.8,255.5) scale(1.0667,1)" text-anchor="middle" class="cap" id="cap-b">(<tspan font-weight="bold">b</tspan>) RESNET</text>
<text transform="translate(158.7,577.7) scale(1.1402,1)" text-anchor="middle" class="cap" id="cap-c">(<tspan font-weight="bold">c</tspan>) MCDCNN</text>
<text transform="translate(594.1,577.7) scale(1.1414,1)" text-anchor="middle" class="cap" id="cap-d">(<tspan font-weight="bold">d</tspan>) CNN</text>
</svg>
</body></html>
